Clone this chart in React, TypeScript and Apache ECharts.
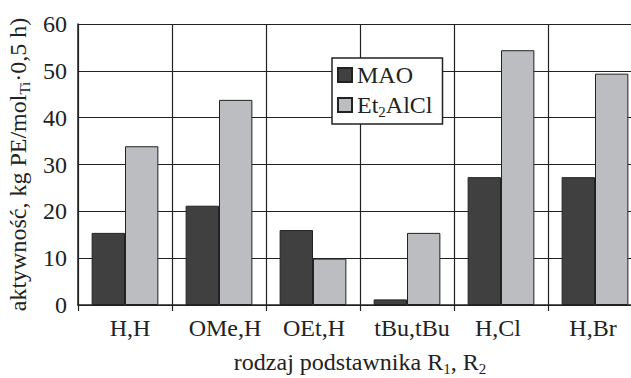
import React, { useEffect, useRef } from "react";
import * as echarts from "echarts";

const categories = ["H,H", "OMe,H", "OEt,H", "tBu,tBu", "H,Cl", "H,Br"];
const maoValues = [15.4, 21.2, 16.0, 1.2, 27.3, 27.3];
const etValues = [33.9, 43.8, 9.9, 15.4, 54.4, 49.4];
const seriesNames = ["MAO", "Et2AlCl"];
const yTicks = { min: 0, max: 60, interval: 10 };

// small horizontal nudges of category labels (px), as drawn in the reference
const labelShift = [5, 6, 1, 5, -3, -2];

const FONT = "Liberation Serif";
const INK = "#222";
const FS = 24;

export default function App() {
  const ref = useRef<HTMLDivElement>(null);
  useEffect(() => {
    if (!ref.current) return;
    const chart = echarts.init(ref.current, undefined, { renderer: "svg" });
    const base = { fontFamily: FONT, fontSize: FS, color: INK };
    const labelRich: Record<string, any> = {};
    labelShift.forEach((d, i) => {
      labelRich["c" + i] = {
        ...base,
        padding: [0, d < 0 ? -2 * d : 0, 0, d > 0 ? 2 * d : 0],
      };
    });
    const subRich = {
      a: { ...base, lineHeight: 30 },
      s: { fontFamily: FONT, fontSize: 15, color: INK, lineHeight: 15, verticalAlign: "top", padding: [14, 0, 0, 0] },
    };
    chart.setOption({
      animation: false,
      backgroundColor: "#fff",
      grid: { left: 78, top: 24, right: -11, bottom: 73, containLabel: false, outerBoundsMode: "none" },
      legend: {
        orient: "vertical",
        left: 332,
        top: 58,
        padding: [5, 10, 5, 5],
        itemGap: 3,
        itemWidth: 14,
        itemHeight: 14,
        icon: "rect",
        backgroundColor: "#fff",
        borderColor: INK,
        borderWidth: 1.5,
        borderRadius: 0,
        data: seriesNames,
        formatter: (name: string) =>
          name === "MAO" ? "{a|MAO}" : "{a|Et}{s|2}{a|AlCl}",
        textStyle: { ...base, rich: subRich },
      },
      xAxis: {
        type: "category",
        data: categories,
        boundaryGap: true,
        axisLine: { show: true, lineStyle: { color: INK, width: 1.5 } },
        axisTick: { show: true, interval: 0, length: 6, alignWithLabel: false, lineStyle: { color: INK, width: 1.2 } },
        splitLine: { show: true, interval: 0, lineStyle: { color: INK, width: 1.2 } },
        axisLabel: {
          interval: 0,
          margin: 11,
          ...base,
          formatter: (v: string, i: number) => `{c${i}|${v}}`,
          rich: labelRich,
        },
        name: "{a|rodzaj podstawnika R}{s|1}{a|, R}{s|2}",
        nameLocation: "middle",
        nameGap: 42,
        nameTextStyle: { ...base, rich: subRich },
      },
      yAxis: {
        type: "value",
        min: yTicks.min,
        max: yTicks.max,
        interval: yTicks.interval,
        axisLine: { show: true, lineStyle: { color: INK, width: 1.5 } },
        axisTick: { show: false },
        splitLine: { show: true, lineStyle: { color: INK, width: 1.2 } },
        axisLabel: { margin: 11, ...base },
        name: "{a|aktywność, kg PE/mol}{s|Ti}{a|·0,5 h)}",
        nameLocation: "middle",
        nameGap: 35,
        nameRotate: 90,
        nameTextStyle: { ...base, rich: subRich },
      },
      series: [
        {
          name: seriesNames[0],
          type: "bar",
          data: maoValues,
          barGap: "0%",
          barCategoryGap: "29%",
          itemStyle: { color: "#404040", borderColor: INK, borderWidth: 1 },
        },
        {
          name: seriesNames[1],
          type: "bar",
          data: etValues,
          barGap: "0%",
          barCategoryGap: "29%",
          itemStyle: { color: "#bcbdc1", borderColor: INK, borderWidth: 1 },
        },
      ],
    });
    return () => chart.dispose();
  }, []);
  return (
    <div
      ref={ref}
      style={{ position: "fixed", left: 0, top: 0, width: 631, height: 378 }}
    />
  );
}
